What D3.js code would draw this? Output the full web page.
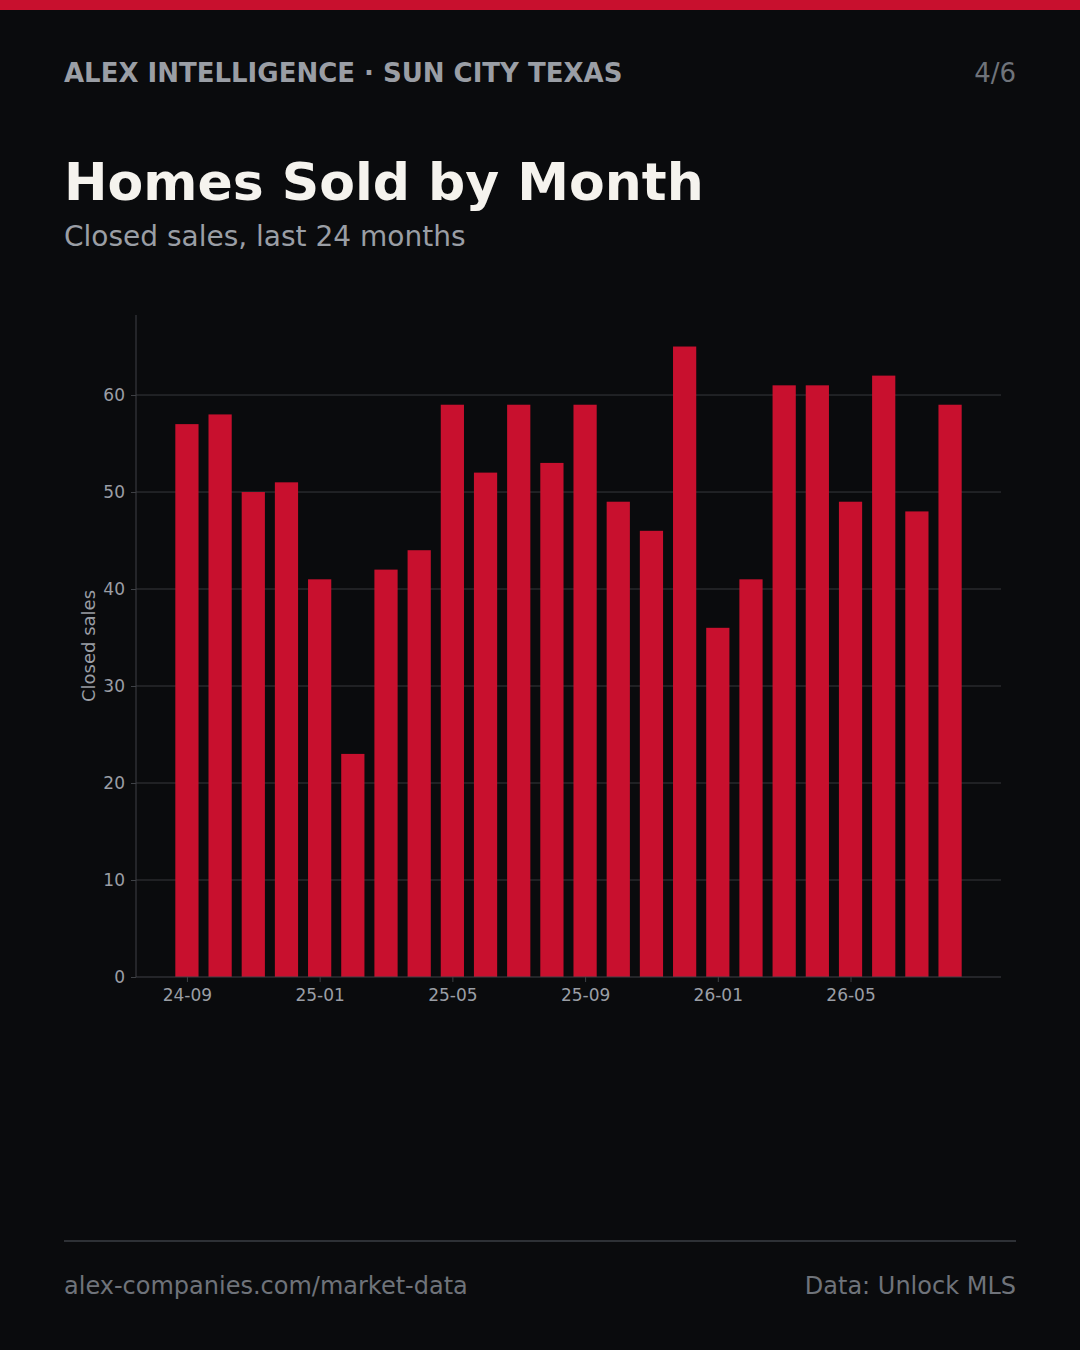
<!DOCTYPE html>
<html>
<head>
<meta charset="utf-8">
<script src="https://cdn.jsdelivr.net/npm/d3@7"></script>
<style>
  html, body { margin: 0; padding: 0; background: #0a0b0d; }
  svg { display: block; }
</style>
</head>
<body>
<div id="chart"></div>
<script>
// months (YY-MM) and closed sales
const months = ['24-09', '24-10', '24-11', '24-12', '25-01', '25-02', '25-03', '25-04',
    '25-05', '25-06', '25-07', '25-08', '25-09', '25-10', '25-11', '25-12',
    '26-01', '26-02', '26-03', '26-04', '26-05', '26-06', '26-07', '26-08'];
const sales = [57, 58, 50, 51, 41, 23, 42, 44, 59, 52, 59, 53,
    59, 49, 46, 65, 36, 41, 61, 61, 49, 62, 48, 59];
const yTicks = [0, 10, 20, 30, 40, 50, 60];
const xTickLabels = ['24-09', '25-01', '25-05', '25-09', '26-01', '26-05'];

const width = 1080,
    height = 1350,
    margin = {left: 136, top: 315, right: 1001, bottom: 977},
    red = '#c8102e',
    font = 'DejaVu Sans, sans-serif';

const svg = d3.select('#chart').append('svg')
    .attr('width', width)
    .attr('height', height)
    .style('font-family', font);

svg.append('rect').attr('width', width).attr('height', height).attr('fill', '#0a0b0d');
svg.append('rect').attr('width', width).attr('height', 10).attr('fill', red);

// header
svg.append('text')
    .attr('x', 64).attr('y', 82)
    .attr('font-size', 26).attr('font-weight', 'bold')
    .attr('fill', '#9a9ea5')
    .text('ALEX INTELLIGENCE · SUN CITY TEXAS');

svg.append('text')
    .attr('x', 1016).attr('y', 82)
    .attr('text-anchor', 'end')
    .attr('font-size', 26)
    .attr('fill', '#6f737a')
    .text('4/6');

svg.append('text')
    .attr('x', 64).attr('y', 200)
    .attr('font-size', 52).attr('font-weight', 'bold')
    .attr('fill', '#f5f3ee')
    .text('Homes Sold by Month');

svg.append('text')
    .attr('x', 64).attr('y', 246)
    .attr('font-size', 28)
    .attr('fill', '#9a9ea5')
    .text('Closed sales, last 24 months');

// scales: matplotlib-style margins around bars of width 0.7
const barW = 0.7;
const pad = (months.length - 1 + barW) * 0.05;
const x = d3.scaleLinear()
    .domain([-barW / 2 - pad, months.length - 1 + barW / 2 + pad])
    .range([margin.left, margin.right]);

const y = d3.scaleLinear()
    .domain([0, d3.max(sales) * 1.05])
    .range([margin.bottom, margin.top]);

// grid
svg.append('g')
    .selectAll('line')
    .data(yTicks.filter(d => d > 0))
    .join('line')
    .attr('x1', margin.left).attr('x2', margin.right)
    .attr('y1', d => y(d)).attr('y2', d => y(d))
    .attr('stroke', '#36393d')
    .attr('stroke-width', 1);

// bars
svg.append('g')
    .selectAll('rect')
    .data(sales)
    .join('rect')
    .attr('x', (d, i) => x(i - barW / 2))
    .attr('width', (d, i) => x(i + barW / 2) - x(i - barW / 2))
    .attr('y', d => y(d))
    .attr('height', d => y(0) - y(d))
    .attr('fill', red);

// y axis
const yAxis = svg.append('g')
    .attr('transform', `translate(${margin.left}, 0)`)
    .call(d3.axisLeft(y).tickValues(yTicks).tickSize(5).tickPadding(6));

// x axis
const xAxis = svg.append('g')
    .attr('transform', `translate(0, ${margin.bottom})`)
    .call(d3.axisBottom(x)
        .tickValues(xTickLabels.map(m => months.indexOf(m)))
        .tickFormat(i => months[i])
        .tickSize(5).tickPadding(7));

[yAxis, xAxis].forEach(a => {
    a.select('.domain').attr('stroke', '#3e4146');
    a.selectAll('.tick line').attr('stroke', '#3e4146');
    a.selectAll('.tick text')
        .attr('fill', '#9a9ea5')
        .attr('font-size', 17)
        .attr('font-family', font);
});
yAxis.select('.domain').attr('d', `M0,${margin.top}V${margin.bottom}`);
xAxis.select('.domain').attr('d', `M${margin.left},0H${margin.right}`);

svg.append('text')
    .attr('transform', `translate(95, ${(margin.top + margin.bottom) / 2}) rotate(-90)`)
    .attr('text-anchor', 'middle')
    .attr('font-size', 18)
    .attr('fill', '#9a9ea5')
    .text('Closed sales');

// footer
svg.append('line')
    .attr('x1', 64).attr('x2', 1016)
    .attr('y1', 1241).attr('y2', 1241)
    .attr('stroke', '#2e3136')
    .attr('stroke-width', 2);

svg.append('text')
    .attr('x', 64).attr('y', 1294)
    .attr('font-size', 24)
    .attr('fill', '#6f737a')
    .text('alex-companies.com/market-data');

svg.append('text')
    .attr('x', 1016).attr('y', 1294)
    .attr('text-anchor', 'end')
    .attr('font-size', 24)
    .attr('fill', '#6f737a')
    .text('Data: Unlock MLS');
</script>
</body>
</html>
